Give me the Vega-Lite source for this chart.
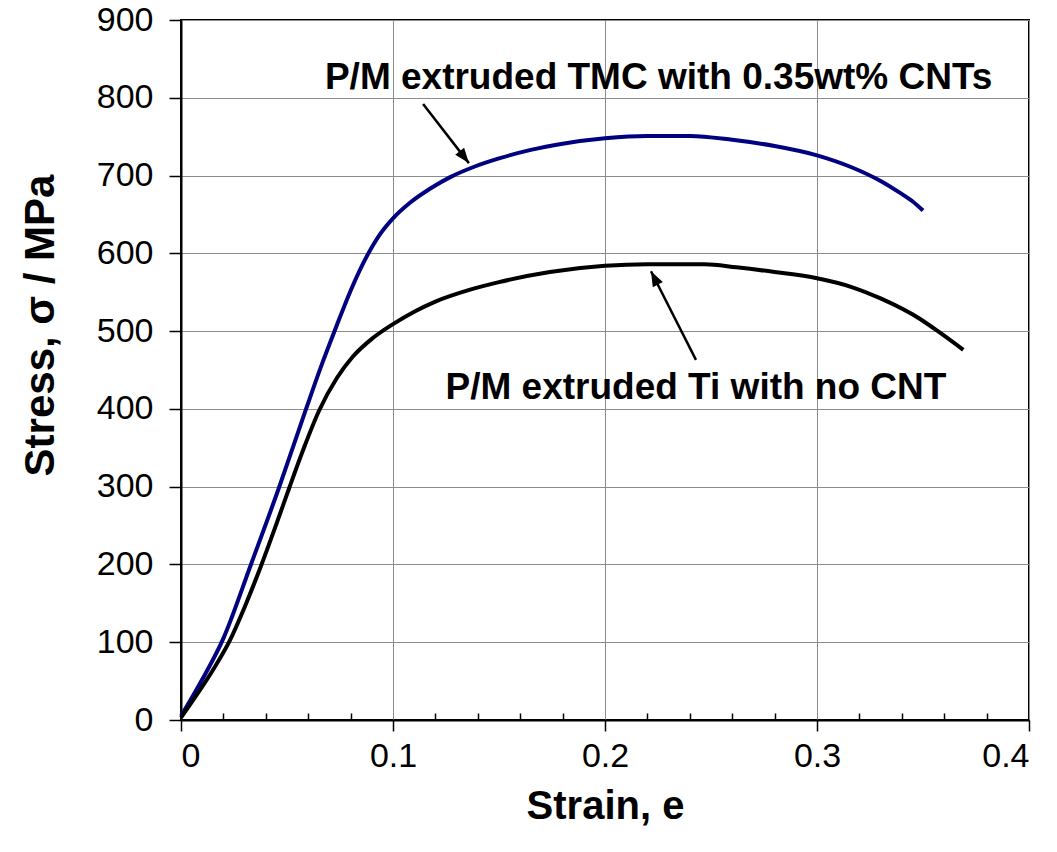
{
  "$schema": "https://vega.github.io/schema/vega-lite/v6.json",
  "width": 848,
  "height": 700,
  "autosize": {"type": "none"},
  "padding": {"left": 181, "top": 20, "right": 28, "bottom": 132},
  "background": "white",
  "config": {
    "view": {"stroke": "black", "strokeWidth": 2},
    "font": "Liberation Sans"
  },
  "datasets": {
    "curves": [
      {"series": "TMC", "strain": 0, "stress": 5},
      {"series": "TMC", "strain": 0.01, "stress": 52},
      {"series": "TMC", "strain": 0.02, "stress": 105},
      {"series": "TMC", "strain": 0.033, "stress": 200},
      {"series": "TMC", "strain": 0.046, "stress": 297},
      {"series": "TMC", "strain": 0.059, "stress": 400},
      {"series": "TMC", "strain": 0.066, "stress": 454},
      {"series": "TMC", "strain": 0.073, "stress": 504},
      {"series": "TMC", "strain": 0.08, "stress": 552},
      {"series": "TMC", "strain": 0.088, "stress": 598},
      {"series": "TMC", "strain": 0.094, "stress": 625},
      {"series": "TMC", "strain": 0.1, "stress": 645},
      {"series": "TMC", "strain": 0.108, "stress": 665},
      {"series": "TMC", "strain": 0.118, "stress": 684},
      {"series": "TMC", "strain": 0.127, "stress": 698},
      {"series": "TMC", "strain": 0.138, "stress": 711},
      {"series": "TMC", "strain": 0.15, "stress": 722},
      {"series": "TMC", "strain": 0.165, "stress": 733},
      {"series": "TMC", "strain": 0.18, "stress": 741},
      {"series": "TMC", "strain": 0.2, "stress": 748},
      {"series": "TMC", "strain": 0.22, "stress": 751},
      {"series": "TMC", "strain": 0.24, "stress": 751},
      {"series": "TMC", "strain": 0.26, "stress": 746},
      {"series": "TMC", "strain": 0.28, "stress": 738},
      {"series": "TMC", "strain": 0.3, "stress": 726},
      {"series": "TMC", "strain": 0.316, "stress": 711},
      {"series": "TMC", "strain": 0.33, "stress": 693},
      {"series": "TMC", "strain": 0.339, "stress": 678},
      {"series": "TMC", "strain": 0.345, "stress": 667},
      {"series": "TMC", "strain": 0.35, "stress": 655},
      {"series": "Ti", "strain": 0, "stress": 3},
      {"series": "Ti", "strain": 0.0066, "stress": 29},
      {"series": "Ti", "strain": 0.015, "stress": 64},
      {"series": "Ti", "strain": 0.023, "stress": 102},
      {"series": "Ti", "strain": 0.03, "stress": 145},
      {"series": "Ti", "strain": 0.038, "stress": 200},
      {"series": "Ti", "strain": 0.045, "stress": 252},
      {"series": "Ti", "strain": 0.051, "stress": 298},
      {"series": "Ti", "strain": 0.058, "stress": 350},
      {"series": "Ti", "strain": 0.065, "stress": 397},
      {"series": "Ti", "strain": 0.0736, "stress": 440},
      {"series": "Ti", "strain": 0.081, "stress": 467},
      {"series": "Ti", "strain": 0.09, "stress": 490},
      {"series": "Ti", "strain": 0.1, "stress": 509},
      {"series": "Ti", "strain": 0.11, "stress": 525},
      {"series": "Ti", "strain": 0.12, "stress": 538},
      {"series": "Ti", "strain": 0.136, "stress": 553},
      {"series": "Ti", "strain": 0.15, "stress": 563},
      {"series": "Ti", "strain": 0.174, "stress": 576},
      {"series": "Ti", "strain": 0.2, "stress": 584},
      {"series": "Ti", "strain": 0.22, "stress": 586},
      {"series": "Ti", "strain": 0.247, "stress": 586},
      {"series": "Ti", "strain": 0.262, "stress": 582},
      {"series": "Ti", "strain": 0.28, "stress": 576},
      {"series": "Ti", "strain": 0.3, "stress": 568},
      {"series": "Ti", "strain": 0.316, "stress": 557},
      {"series": "Ti", "strain": 0.33, "stress": 542},
      {"series": "Ti", "strain": 0.349, "stress": 515},
      {"series": "Ti", "strain": 0.358, "stress": 498},
      {"series": "Ti", "strain": 0.369, "stress": 476}
    ],
    "labels": [
      {"text": "P/M extruded TMC with 0.35wt% CNTs", "strain": 0.2253, "stress": 811},
      {"text": "P/M extruded Ti with no CNT", "strain": 0.2429, "stress": 413}
    ],
    "arrows": [
      {"id": "a1", "strain": 0.1142, "stress": 792, "strain2": 0.1358, "stress2": 716},
      {"id": "a2", "strain": 0.2429, "stress": 463, "strain2": 0.2217, "stress2": 577}
    ]
  },
  "resolve": {"axis": {"x": "independent", "y": "independent"}},
  "layer": [
    {
      "data": {"name": "curves"},
      "mark": {"type": "line", "strokeWidth": 4, "interpolate": "monotone"},
      "encoding": {
        "x": {
          "field": "strain", "type": "quantitative",
          "scale": {"domain": [0, 0.4], "nice": false},
          "axis": {
            "values": [0, 0.1, 0.2, 0.3, 0.4], "format": "~g",
            "grid": true, "gridColor": "#8c8c8c", "gridWidth": 1,
            "domainColor": "black", "domainWidth": 2,
            "tickColor": "black", "tickSize": 11, "tickWidth": 1.5,
            "labelFontSize": 34, "labelColor": "black", "labelPadding": 8,
            "title": "Strain, e", "titleFontSize": 40, "titleFontWeight": "bold",
            "titleColor": "black", "titleY": 98, "titleBaseline": "alphabetic"
          }
        },
        "y": {
          "field": "stress", "type": "quantitative",
          "scale": {"domain": [0, 900], "nice": false},
          "axis": {
            "values": [0, 100, 200, 300, 400, 500, 600, 700, 800, 900], "format": "d",
            "grid": true, "gridColor": "#8c8c8c", "gridWidth": 1,
            "domainColor": "black", "domainWidth": 2,
            "tickColor": "black", "tickSize": 12, "tickWidth": 1.5,
            "labelFontSize": 34, "labelColor": "black", "labelPadding": 16,
            "title": "Stress,  σ  / MPa", "titleFontSize": 42, "titleFontWeight": "bold",
            "titleColor": "black", "titleX": -128, "titleY": 305, "titleBaseline": "alphabetic", "titleAngle": 270
          }
        },
        "color": {
          "field": "series", "type": "nominal",
          "scale": {"domain": ["TMC", "Ti"], "range": ["#000080", "#000000"]},
          "legend": null
        }
      }
    },
    {
      "data": {"name": "labels"},
      "mark": {"type": "text", "fontSize": 37, "fontWeight": "bold", "align": "center", "baseline": "alphabetic", "color": "black"},
      "encoding": {
        "x": {
          "field": "strain", "type": "quantitative",
          "axis": {
            "orient": "top", "offset": -700,
            "values": [0.02, 0.04, 0.06, 0.08, 0.12, 0.14, 0.16, 0.18, 0.22, 0.24, 0.26, 0.28, 0.32, 0.34, 0.36, 0.38],
            "labels": false, "domain": false, "grid": false,
            "tickColor": "black", "tickSize": 7, "tickWidth": 1.5, "title": null
          }
        },
        "y": {"field": "stress", "type": "quantitative", "axis": null},
        "text": {"field": "text"}
      }
    },
    {
      "data": {"name": "arrows"},
      "mark": {"type": "rule", "strokeWidth": 2.5, "color": "black"},
      "encoding": {
        "x": {"field": "strain", "type": "quantitative", "axis": null},
        "y": {"field": "stress", "type": "quantitative", "axis": null},
        "x2": {"field": "strain2"},
        "y2": {"field": "stress2"}
      }
    },
    {
      "data": {"name": "arrows"},
      "transform": [{"filter": "datum.id === 'a1'"}],
      "mark": {"type": "point", "shape": "M0,0L-0.45,1.2L0.45,1.2Z", "filled": true, "color": "black", "opacity": 1, "size": 625, "angle": 142},
      "encoding": {
        "x": {"field": "strain2", "type": "quantitative", "axis": null},
        "y": {"field": "stress2", "type": "quantitative", "axis": null}
      }
    },
    {
      "data": {"name": "arrows"},
      "transform": [{"filter": "datum.id === 'a2'"}],
      "mark": {"type": "point", "shape": "M0,0L-0.45,1.2L0.45,1.2Z", "filled": true, "color": "black", "opacity": 1, "size": 625, "angle": 333},
      "encoding": {
        "x": {"field": "strain2", "type": "quantitative", "axis": null},
        "y": {"field": "stress2", "type": "quantitative", "axis": null}
      }
    }
  ]
}
